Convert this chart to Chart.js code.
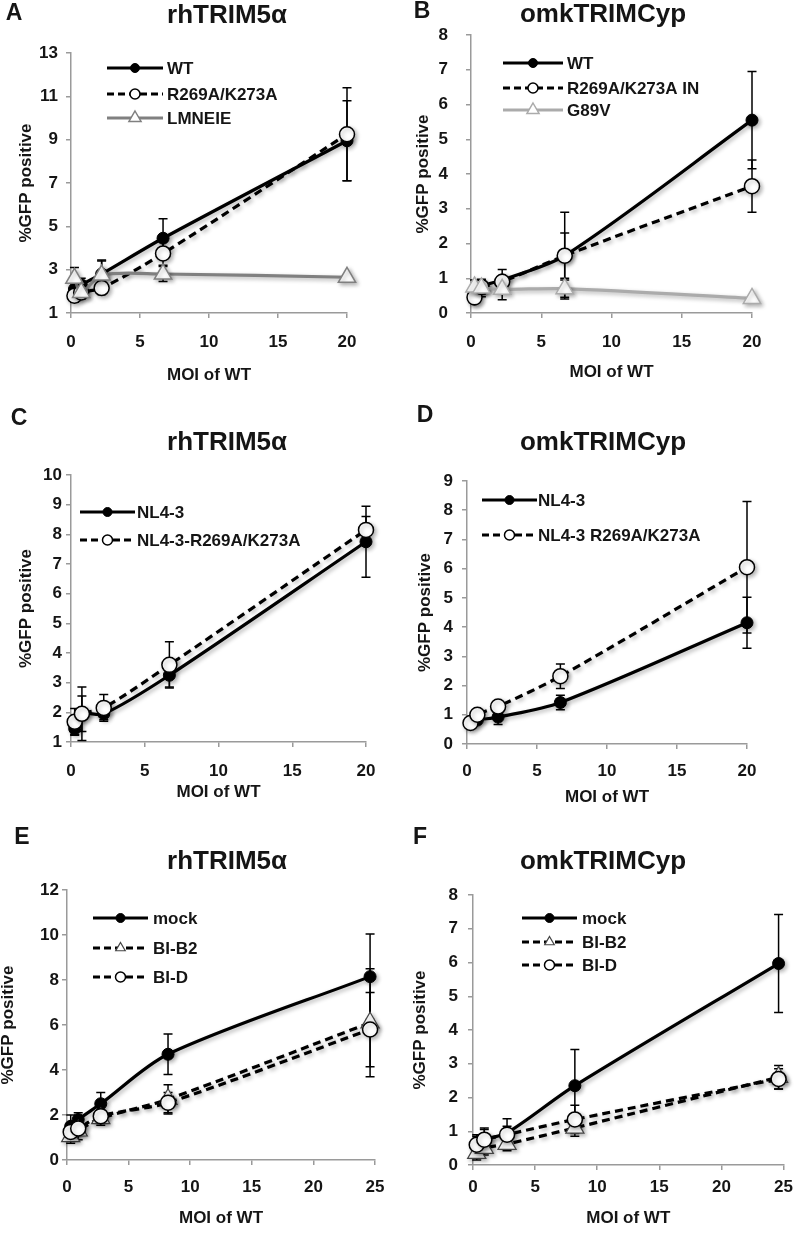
<!DOCTYPE html>
<html>
<head>
<meta charset="utf-8">
<script src="https://cdn.jsdelivr.net/npm/chart.js@4.4.1/dist/chart.umd.min.js"></script>
<style>
  body { margin:0; background:#fff; width:800px; height:1237px; position:relative; overflow:hidden; }
  canvas { position:absolute; }
</style>
</head>
<body>
<canvas id="chartA" width="400" height="400" style="left:0;top:0"></canvas>
<canvas id="chartB" width="400" height="400" style="left:400px;top:0"></canvas>
<canvas id="chartC" width="400" height="420" style="left:0;top:400px"></canvas>
<canvas id="chartD" width="400" height="420" style="left:400px;top:400px"></canvas>
<canvas id="chartE" width="400" height="417" style="left:0;top:820px"></canvas>
<canvas id="chartF" width="400" height="417" style="left:400px;top:820px"></canvas>
<script>
// --- données ---
const moiAD = [0.25, 0.74, 2.22, 6.67, 20];
const moiEF = [0.3, 0.91, 2.74, 8.2, 24.6];

// A - rhTRIM5a
const wtA = [2.1, 2.3, 2.8, 4.45, 8.95];
const wtAErr = [0.4, 0.3, 0.6, 0.9, 1.85];
const mutA = [1.8, 1.95, 2.15, 3.75, 9.25];
const mutAErr = [0.3, 0.2, 0.3, 0.55, 2.15];
const lmneieA = [2.6, 1.95, 2.75, 2.8, 2.65];
const lmneieAErr = [0.5, 0.3, 0.7, 0.35, 0.1];

// B - omkTRIMCyp
const wtB = [0.4, 0.75, 0.95, 1.65, 5.55];
const wtBErr = [0.12, 0.1, 0.3, 1.25, 1.4];
const mutB = [0.45, 0.75, 0.9, 1.65, 3.65];
const mutBErr = [0.1, 0.2, 0.15, 0.65, 0.75];
const g89vB = [0.75, 0.72, 0.68, 0.7, 0.42];
const g89vBErr = [0.2, 0.25, 0.3, 0.25, 0.05];

// C - rhTRIM5a
const nlC = [1.45, 1.95, 1.95, 3.25, 7.75];
const nlCErr = [0.2, 0.6, 0.2, 0.4, 1.2];
const nlMutC = [1.68, 1.95, 2.15, 3.6, 8.15];
const nlMutCErr = [0.45, 0.9, 0.45, 0.78, 0.45];

// D - omkTRIMCyp
const nlD = [0.75, 0.82, 0.92, 1.42, 4.15];
const nlDErr = [0.1, 0.1, 0.25, 0.25, 0.87];
const nlMutD = [0.72, 1.0, 1.28, 2.32, 6.05];
const nlMutDErr = [0.05, 0.08, 0.1, 0.42, 2.25];

// E - rhTRIM5a
const mockE = [1.5, 1.8, 2.5, 4.7, 8.15];
const mockEErr = [0.5, 0.3, 0.5, 0.9, 1.9];
const b2E = [1.05, 1.3, 1.85, 2.7, 6.1];
const b2EErr = [0.3, 0.4, 0.3, 0.65, 2.4];
const bdE = [1.25, 1.4, 1.95, 2.55, 5.8];
const bdEErr = [0.3, 0.3, 0.3, 0.45, 1.65];

// F - omkTRIMCyp
const mockF = [0.6, 0.75, 0.95, 2.35, 5.97];
const mockFErr = [0.3, 0.35, 0.42, 1.07, 1.45];
const b2F = [0.35, 0.5, 0.62, 1.1, 2.6];
const b2FErr = [0.2, 0.2, 0.2, 0.25, 0.35];
const bdF = [0.6, 0.75, 0.9, 1.35, 2.55];
const bdFErr = [0.25, 0.3, 0.25, 0.42, 0.3];

// --- styles ---
const FONT = "'Liberation Sans', Arial, sans-serif";
const TXT = '#151515';
const AXIS = '#9a9a9a';
const FS = 17; // taille texte axes / légende

const solidDot = { borderColor:'#000', borderWidth:3.2, pointStyle:'circle', pointRadius:6,
  pointBackgroundColor:'#000', pointBorderColor:'#000', pointBorderWidth:1, legendRadius:4.5 };
const dashCircle = { borderColor:'#000', borderWidth:3.2, borderDash:[8,5], pointStyle:'circle', pointRadius:7.5,
  pointBackgroundColor:'#fff', pointBorderColor:'#000', pointBorderWidth:1.5, legendRadius:5 };
const dashTri = { borderColor:'#000', borderWidth:3.2, borderDash:[8,5], pointStyle:'triangle', pointRadius:10.5,
  pointBackgroundColor:'#fff', pointBorderColor:'#444', pointBorderWidth:1.2, legendRadius:5.5 };
const grayTri = c => ({ borderColor:c, borderWidth:3.2, pointStyle:'triangle', pointRadius:10,
  pointBackgroundColor:'#fff', pointBorderColor:c, pointBorderWidth:1.5, legendRadius:7 });

function series(label, xs, ys, errs, style, order) {
  return Object.assign({ label, data: xs.map((x, i) => ({ x, y: ys[i] })), errors: errs,
    tension:0.3, clip:false, order }, style);
}

// --- plugins ---
const errorBars = {
  id:'errorBars',
  beforeDatasetsDraw(chart) {
    const ctx = chart.ctx, xs = chart.scales.x, ys = chart.scales.y;
    ctx.save();
    ctx.strokeStyle = '#000';
    ctx.lineWidth = 1.5;
    chart.data.datasets.forEach(ds => {
      if (!ds.errors) return;
      ds.data.forEach((p, i) => {
        const e = ds.errors[i];
        const px = xs.getPixelForValue(p.x);
        const top = ys.getPixelForValue(p.y + e), bot = ys.getPixelForValue(p.y - e);
        ctx.beginPath();
        ctx.moveTo(px, top); ctx.lineTo(px, bot);
        ctx.moveTo(px - 4.5, top); ctx.lineTo(px + 4.5, top);
        ctx.moveTo(px - 4.5, bot); ctx.lineTo(px + 4.5, bot);
        ctx.stroke();
      });
    });
    ctx.restore();
  }
};

const shadow = {
  id:'shadow',
  beforeDatasetDraw(chart) {
    const ctx = chart.ctx;
    ctx.save();
    ctx.shadowColor = 'rgba(0,0,0,0.3)';
    ctx.shadowBlur = 4;
    ctx.shadowOffsetX = 2;
    ctx.shadowOffsetY = 2;
  },
  afterDatasetDraw(chart) { chart.ctx.restore(); }
};

function marker(ctx, style, r, x, y, fill, stroke, lw) {
  ctx.beginPath();
  if (style === 'triangle') {
    ctx.moveTo(x, y - r);
    ctx.lineTo(x + r * 0.866, y + r / 2);
    ctx.lineTo(x - r * 0.866, y + r / 2);
    ctx.closePath();
  } else {
    ctx.arc(x, y, r, 0, Math.PI * 2);
  }
  ctx.fillStyle = fill; ctx.fill();
  ctx.lineWidth = lw; ctx.strokeStyle = stroke; ctx.stroke();
}

const panelText = {
  id:'panelText',
  afterDraw(chart, args, o) {
    const ctx = chart.ctx;
    ctx.save();
    ctx.fillStyle = TXT;
    ctx.textBaseline = 'middle';
    ctx.textAlign = 'center';
    ctx.font = 'bold 23px ' + FONT;
    ctx.fillText(o.letter, o.letterX, o.letterY);
    ctx.font = 'bold 26px ' + FONT;
    ctx.fillText(o.title, o.titleX, o.titleY);
    // legende ligne + marqueur
    ctx.font = 'bold ' + FS + 'px ' + FONT;
    ctx.textAlign = 'left';
    chart.data.datasets.forEach((ds, i) => {
      const y = o.rows[i];
      ctx.beginPath();
      ctx.setLineDash(ds.borderDash ? [7, 4] : []);
      ctx.strokeStyle = ds.borderColor; ctx.lineWidth = 3;
      ctx.moveTo(o.x0, y); ctx.lineTo(o.x1, y); ctx.stroke();
      ctx.setLineDash([]);
      marker(ctx, ds.pointStyle, ds.legendRadius, (o.x0 + o.x1) / 2, y,
        ds.pointBackgroundColor, ds.pointBorderColor, ds.pointBorderWidth);
      ctx.fillStyle = TXT;
      ctx.fillText(ds.label, o.textX, y + 1);
    });
    ctx.restore();
  }
};

// --- construction d'un panneau ---
function makePanel(id, box, yAxis, xMax, datasets, text) {
  const tickFont = { family:FONT, size:FS, weight:'bold' };
  const half = FS * 1.2 / 2;
  new Chart(document.getElementById(id), {
    type:'line',
    data:{ datasets },
    plugins:[errorBars, shadow, panelText],
    options:{
      responsive:false,
      animation:false,
      layout:{ padding:{ left:0, top:box.t, right:box.w - box.r, bottom:0 } },
      plugins:{ legend:{ display:false }, tooltip:{ enabled:false }, panelText:text },
      scales:{
        x:{
          type:'linear', min:0, max:xMax,
          ticks:{ stepSize:5, color:TXT, font:tickFont, padding:box.xPad },
          grid:{ drawOnChartArea:false, drawTicks:true, tickLength:5, color:AXIS, lineWidth:1.5 },
          border:{ color:AXIS, width:1.5 },
          title:{ display:true, text:'MOI of WT', color:TXT, font:tickFont,
            padding:{ top:0, bottom:box.h - box.xTitleY - half } },
          afterFit: s => { s.height = box.h - box.b; }
        },
        y:{
          type:'linear', min:yAxis[0], max:yAxis[1],
          ticks:{ stepSize:yAxis[2], color:TXT, font:tickFont, padding:box.yPad },
          grid:{ drawOnChartArea:false, drawTicks:true, tickLength:5, color:AXIS, lineWidth:1.5 },
          border:{ color:AXIS, width:1.5 },
          title:{ display:true, text:'%GFP positive', color:TXT, font:tickFont,
            padding:{ top:box.yTitleX - half, bottom:0 } },
          afterFit: s => { s.width = box.l; }
        }
      }
    }
  });
}

// A
makePanel('chartA',
  { w:400, h:400, l:71, t:53, r:347, b:313, xPad:14, yPad:8, xTitleY:375, yTitleX:26 },
  [1, 13, 2], 20,
  [ series('WT', moiAD, wtA, wtAErr, solidDot, 3),
    series('R269A/K273A', moiAD, mutA, mutAErr, dashCircle, 2),
    series('LMNEIE', moiAD, lmneieA, lmneieAErr, grayTri('#808080'), 1) ],
  { letter:'A', letterX:14, letterY:14, title:'rhTRIM5α', titleX:227, titleY:16,
    x0:107, x1:163, textX:167, rows:[68, 94, 118] });

// B
makePanel('chartB',
  { w:400, h:400, l:71, t:35, r:352, b:313, xPad:14, yPad:18, xTitleY:372, yTitleX:23 },
  [0, 8, 1], 20,
  [ series('WT', moiAD, wtB, wtBErr, solidDot, 3),
    series('R269A/K273A IN', moiAD, mutB, mutBErr, dashCircle, 2),
    series('G89V', moiAD, g89vB, g89vBErr, grayTri('#ababab'), 1) ],
  { letter:'B', letterX:22, letterY:12, title:'omkTRIMCyp', titleX:203, titleY:15,
    x0:103, x1:163, textX:167, rows:[63, 88, 110] });

// C
makePanel('chartC',
  { w:400, h:420, l:71, t:75, r:366, b:342, xPad:14, yPad:4, xTitleY:392, yTitleX:26 },
  [1, 10, 1], 20,
  [ series('NL4-3', moiAD, nlC, nlCErr, solidDot, 2),
    series('NL4-3-R269A/K273A', moiAD, nlMutC, nlMutCErr, dashCircle, 1) ],
  { letter:'C', letterX:19, letterY:19, title:'rhTRIM5α', titleX:227, titleY:43,
    x0:80, x1:135, textX:137, rows:[112, 140] });

// D
makePanel('chartD',
  { w:400, h:420, l:67, t:81, r:347, b:344, xPad:12, yPad:9, xTitleY:397, yTitleX:25 },
  [0, 9, 1], 20,
  [ series('NL4-3', moiAD, nlD, nlDErr, solidDot, 2),
    series('NL4-3 R269A/K273A', moiAD, nlMutD, nlMutDErr, dashCircle, 1) ],
  { letter:'D', letterX:25, letterY:16, title:'omkTRIMCyp', titleX:203, titleY:43,
    x0:82, x1:137, textX:138, rows:[100, 135] });

// E
makePanel('chartE',
  { w:400, h:417, l:67, t:70, r:375, b:340, xPad:12, yPad:3, xTitleY:398, yTitleX:8 },
  [0, 12, 2], 25,
  [ series('mock', moiEF, mockE, mockEErr, solidDot, 3),
    series('BI-B2', moiEF, b2E, b2EErr, dashTri, 2),
    series('BI-D', moiEF, bdE, bdEErr, dashCircle, 1) ],
  { letter:'E', letterX:22, letterY:18, title:'rhTRIM5α', titleX:227, titleY:42,
    x0:93, x1:148, textX:153, rows:[98, 128, 157] });

// F
makePanel('chartF',
  { w:400, h:417, l:73, t:75, r:390, b:345, xPad:7, yPad:10, xTitleY:398, yTitleX:20 },
  [0, 8, 1], 25,
  [ series('mock', moiEF, mockF, mockFErr, solidDot, 3),
    series('BI-B2', moiEF, b2F, b2FErr, dashTri, 2),
    series('BI-D', moiEF, bdF, bdFErr, dashCircle, 1) ],
  { letter:'F', letterX:20, letterY:18, title:'omkTRIMCyp', titleX:203, titleY:42,
    x0:122, x1:177, textX:182, rows:[98, 122, 145] });
</script>
</body>
</html>
